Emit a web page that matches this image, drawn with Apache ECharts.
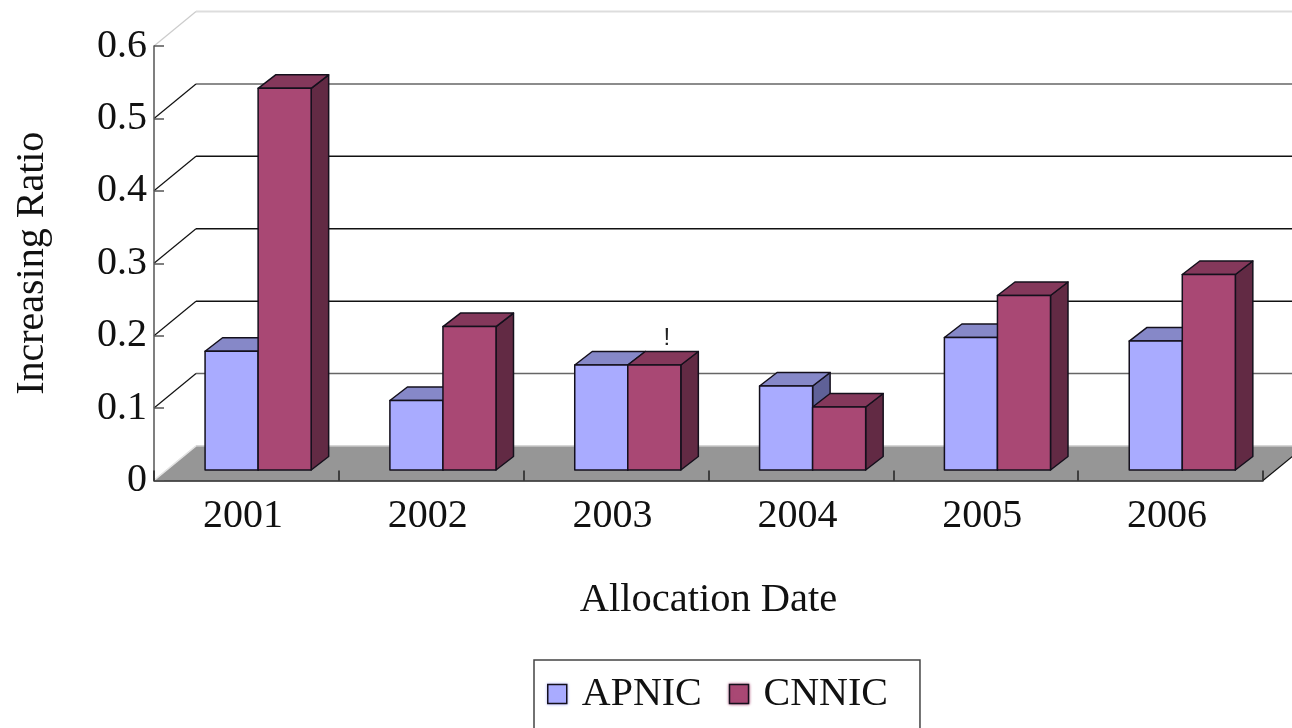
<!DOCTYPE html>
<html>
<head>
<meta charset="utf-8">
<style>html,body{margin:0;padding:0;background:#fff}#c{width:1292px;height:728px}</style>
<script src="https://cdn.jsdelivr.net/npm/echarts@6/dist/echarts.min.js"></script>
</head>
<body>
<div id="c"></div>
<script>
const categories = ['2001','2002','2003','2004','2005','2006'];
const apnic = [0.164,0.096,0.145,0.116,0.183,0.178];
const cnnic = [0.527,0.198,0.145,0.087,0.241,0.270];
const yTicks = [0,0.1,0.2,0.3,0.4,0.5,0.6];
const notes = [['2003','!']];

const FONT = '"Liberation Serif","Times New Roman",serif';
const WALL = [42,-34.5], BAR_D = [17.5,-13.5], BASE_UP = 10.5, SHIFT_X = 11.7, BAR_W = 0.287;
const gridColor = {0:'#969696',0.1:'#666',0.2:'#111',0.3:'#111',0.4:'#111',0.5:'#666',0.6:'#ddd'};
const diagColor = {0:'#ddd',0.6:'#ccc'};

function wallItem(params, api){
  const v = api.value(0), cs = params.coordSys, y = api.coord([0,v])[1];
  const x0 = cs.x, x1 = cs.x + cs.width;
  const children = [];
  if (v !== 0) children.push({type:'polyline',shape:{points:[[x0+WALL[0],y+WALL[1]],[x1+WALL[0],y+WALL[1]]]},
    style:{stroke:gridColor[v],lineWidth:v===0.6?2:1.5,fill:null}});
  children.push({type:'polyline',shape:{points:[[x0,y],[x0+WALL[0],y+WALL[1]]]},
    style:{stroke:diagColor[v]||'#111',lineWidth:1.2,fill:null}});
  return {type:'group',children};
}
function floorItem(params, api){
  const cs = params.coordSys, y = api.coord([0,0])[1], x0 = cs.x, x1 = cs.x+cs.width;
  return {type:'group',children:[
    {type:'polygon',shape:{points:[[x0,y],[x1,y],[x1+WALL[0],y+WALL[1]],[x0+WALL[0],y+WALL[1]]]},
     style:{fill:'#969696',stroke:null}},
    {type:'polyline',shape:{points:[[x0+WALL[0],y+WALL[1]],[x1+WALL[0],y+WALL[1]]]},style:{stroke:'#c8c8c8',lineWidth:1.5,fill:null}},
    {type:'polyline',shape:{points:[[x0,y],[x0+WALL[0],y+WALL[1]]]},style:{stroke:'#e4e4e4',lineWidth:1.5,fill:null}},
    {type:'polyline',shape:{points:[[x1,y],[x1+WALL[0],y+WALL[1]]]},style:{stroke:'#111',lineWidth:1.2,fill:null}}
  ]};
}
function barItem(side, front, top, right){
  return function(params, api){
    const c = api.coord([api.value(0), api.value(1)]);
    const b = api.coord([api.value(0), 0]);
    const w = api.size([1,0])[0]*BAR_W;
    const x0 = c[0]+SHIFT_X+(side<0?-w:0), x1 = x0+w;
    const yT = c[1]-BASE_UP, yB = b[1]-BASE_UP;
    const dx = BAR_D[0], dy = BAR_D[1];
    const st = f => ({fill:f,stroke:'#14101c',lineWidth:1.5,lineJoin:'round'});
    return {type:'group',children:[
      {type:'polygon',shape:{points:[[x1,yT],[x1+dx,yT+dy],[x1+dx,yB+dy],[x1,yB]]},style:st(right)},
      {type:'polygon',shape:{points:[[x0,yT],[x0+dx,yT+dy],[x1+dx,yT+dy],[x1,yT]]},style:st(top)},
      {type:'polygon',shape:{points:[[x0,yT],[x1,yT],[x1,yB],[x0,yB]]},style:st(front)}
    ]};
  };
}
function noteItem(params, api){
  const cat = api.value(0);
  const c = api.coord([cat, cnnic[cat]]);
  return {type:'text',style:{text:notes[params.dataIndex][1],x:c[0]+SHIFT_X+39,y:c[1]-BASE_UP-27,
    font:'24px "Liberation Sans",Arial,sans-serif',fill:'#222',align:'center',verticalAlign:'middle'}};
}

const chart = echarts.init(document.getElementById('c'),null,{renderer:'canvas'});
chart.setOption({
  animation:false,
  backgroundColor:'#fff',
  grid:{left:154,right:29,top:46,bottom:247.5,containLabel:false,outerBoundsMode:'none'},
  xAxis:{type:'category',data:categories,
    name:'Allocation Date',nameLocation:'middle',nameGap:99,
    nameTextStyle:{fontFamily:FONT,fontSize:40.5,color:'#111'},
    axisLine:{lineStyle:{color:'#222',width:1.5}},
    axisTick:{show:true,inside:true,length:10,lineStyle:{color:'#222',width:1.5}},
    axisLabel:{fontFamily:FONT,fontSize:40,color:'#111',margin:16,padding:[0,7,0,0]},
    splitLine:{show:false}},
  yAxis:{type:'value',min:0,max:0.6,interval:0.1,
    name:'Increasing Ratio',nameLocation:'middle',nameGap:102,nameRotate:90,
    nameTextStyle:{fontFamily:FONT,fontSize:40,color:'#111'},
    axisLine:{show:true,lineStyle:{color:'#555',width:1.5}},
    axisTick:{show:true,inside:true,length:10,lineStyle:{color:'#555',width:1.5}},
    axisLabel:{fontFamily:FONT,fontSize:40,color:'#111',margin:7,
      formatter:v=>v===0?'0':v.toFixed(1)},
    splitLine:{show:false}},
  legend:{show:true,left:534,top:660,orient:'horizontal',
    padding:[14,32,30,13],itemGap:27,itemWidth:19,itemHeight:19,
    borderColor:'#444',borderWidth:1.5,
    textStyle:{fontFamily:FONT,fontSize:40,color:'#111',padding:[0,0,0,10]},
    data:[
      {name:'APNIC',icon:'rect',itemStyle:{color:'#A9ABFF',borderColor:'#14101c',borderWidth:1.5,shadowColor:'#A9ABFF',shadowBlur:3}},
      {name:'CNNIC',icon:'rect',itemStyle:{color:'#A94874',borderColor:'#14101c',borderWidth:1.5,shadowColor:'#A94874',shadowBlur:3}}
    ]},
  series:[
    {type:'custom',name:'walls',silent:true,z:-3,coordinateSystem:'cartesian2d',data:yTicks.map(v=>[v]),encode:{},renderItem:wallItem},
    {type:'custom',name:'floor',silent:true,z:-2,coordinateSystem:'cartesian2d',data:[[0]],encode:{},renderItem:floorItem},
    {type:'custom',name:'APNIC',z:3,coordinateSystem:'cartesian2d',itemStyle:{color:'#A9ABFF'},
      data:categories.map((c,i)=>[i,apnic[i]]),encode:{x:0,y:1},renderItem:barItem(-1,'#A9ABFF','#8688C8','#5F6198')},
    {type:'custom',name:'CNNIC',z:3,coordinateSystem:'cartesian2d',itemStyle:{color:'#A94874'},
      data:categories.map((c,i)=>[i,cnnic[i]]),encode:{x:0,y:1},renderItem:barItem(1,'#A94874','#84385B','#622A44')},
    {type:'custom',name:'note',silent:true,z:4,coordinateSystem:'cartesian2d',
      data:notes.map(n=>[categories.indexOf(n[0])]),encode:{},renderItem:noteItem}
  ]
});
</script>
</body>
</html>
